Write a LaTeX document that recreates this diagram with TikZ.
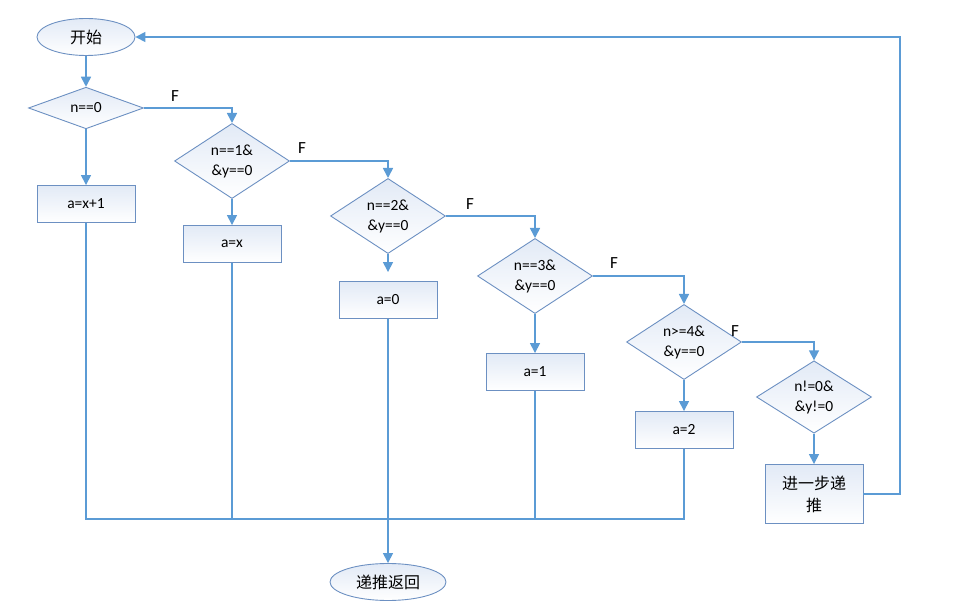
\documentclass[tikz,border=0pt]{standalone}
\usepackage{fontspec}
\setmainfont{Carlito}
\newfontfamily\cjk{Noto Sans CJK SC}
\usetikzlibrary{shapes.geometric,arrows.meta}
\definecolor{flowline}{HTML}{5B9BD5}
\definecolor{flowedge}{HTML}{6C90C2}
\definecolor{flowfill}{HTML}{E2EAF6}

\tikzset{
  startstop/.style={ellipse, draw=flowedge, line width=0.9pt, top color=flowfill, bottom color=white,
    minimum width=98pt, minimum height=37pt, inner sep=0pt, font=\cjk\fontsize{16}{18}\selectfont},
  decision/.style={diamond, draw=flowedge, line width=0.9pt, top color=flowfill, bottom color=white,
    minimum width=115pt, minimum height=59pt, inner sep=0pt, align=center, font=\fontsize{15.5}{20}\selectfont},
  process/.style={rectangle, draw=flowedge, line width=0.9pt, top color=flowfill, bottom color=white,
    minimum width=98pt, minimum height=37pt, inner sep=0pt, align=center, font=\fontsize{15.5}{20}\selectfont},
  flabel/.style={font=\fontsize{17}{18}\selectfont, inner sep=0pt},
  line/.style={draw=flowline, line width=1.6pt},
  arrow/.style={line, -{Triangle[width=10pt,length=10pt]}}
}

\begin{document}
\begin{tikzpicture}[x=1pt,y=-1pt]
  \useasboundingbox (0,0) rectangle (972,609);

  % nodes
  \node[startstop] (start) at (86,37) {开始};
  \node[decision, minimum height=36pt] (d1) at (86,108) {n==0};
  \node[process] (b1) at (86,204) {a=x+1};
  \node[decision] (d2) at (232,161) {n==1\&\\\&y==0};
  \node[process] (b2) at (232,244) {a=x};
  \node[decision] (d3) at (388,216) {n==2\&\\\&y==0};
  \node[process] (b3) at (388,300) {a=0};
  \node[decision] (d4) at (535,276) {n==3\&\\\&y==0};
  \node[process] (b4) at (535,372) {a=1};
  \node[decision] (d5) at (684,342) {n>=4\&\\\&y==0};
  \node[process] (b5) at (684,430) {a=2};
  \node[decision, minimum height=61pt] (d6) at (814,397) {n!=0\&\\\&y!=0};
  \node[process, minimum height=59pt, font=\cjk\fontsize{16}{22}\selectfont] (b6) at (814,494) {进一步递\\推};
  \node[startstop, minimum width=116pt] (stop) at (388,582) {递推返回};

  % F labels
  \node[flabel] (f1) at (175,96) {F};
  \node[flabel] (f2) at (302,148) {F};
  \node[flabel] (f3) at (470,204) {F};
  \node[flabel] (f4) at (614,263) {F};
  \node[flabel] (f5) at (735,331) {F};

  \coordinate (back) at (900,494);
  \coordinate (merge) at (388,519);

  % connectors
  \draw[arrow] (start) -- (d1);
  \draw[arrow] (d1) -- (b1);
  \draw[arrow] (d1.east) -| (d2.north);
  \draw[arrow] (d2) -- (b2);
  \draw[arrow] (d2.east) -| (d3.north);
  \draw[arrow, shorten >=9pt] (d3) -- (b3);
  \draw[arrow] (d3.east) -| (d4.north);
  \draw[arrow] (d4) -- (b4);
  \draw[arrow] (d4.east) -| (d5.north);
  \draw[arrow] (d5) -- (b5);
  \draw[arrow] (d5.east) -| (d6.north);
  \draw[arrow] (d6) -- (b6);
  \draw[arrow] (b6.east) -- (back) |- (start.east);

  \draw[line] (b1.south) -- (b1.south |- merge) -- (b5.south |- merge) -- (b5.south);
  \draw[line] (b2.south) -- (b2.south |- merge);
  \draw[line] (b4.south) -- (b4.south |- merge);
  \draw[arrow] (b3) -- (stop);
\end{tikzpicture}
\end{document}
